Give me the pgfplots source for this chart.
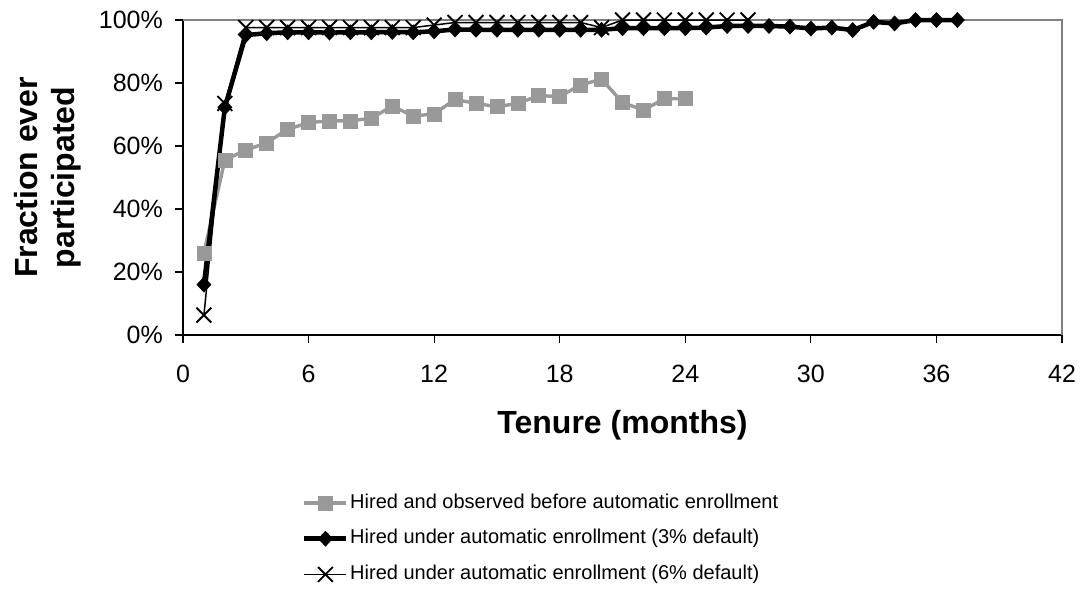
\documentclass[border=0pt]{standalone}
\usepackage{pgfplots}
\pgfplotsset{compat=1.18}
\usepackage{fontspec}
\setmainfont{Liberation Sans}
\definecolor{sgray}{HTML}{999999}
\definecolor{bgray}{HTML}{808080}
\pgfplotstableread{
x y
1 26
2 55.6
3 58.7
4 61
5 65.3
6 67.4
7 68
8 68
9 68.8
10 72.7
11 69.5
12 70.2
13 74.8
14 73.5
15 72.5
16 73.5
17 76
18 75.7
19 79.4
20 81.2
21 73.8
22 71.4
23 75
24 75
}\before
\pgfplotstableread{
x y
1 16
2 72.3
3 95.2
4 95.8
5 96.1
6 96.1
7 96.0
8 96.1
9 96.1
10 96.2
11 96.1
12 96.4
13 97.0
14 96.9
15 96.9
16 96.9
17 96.9
18 96.9
19 96.9
20 96.9
21 97.4
22 97.4
23 97.4
24 97.4
25 97.6
26 98.1
27 98.1
28 98.1
29 97.9
30 97.3
31 97.6
32 96.8
33 99.4
34 98.9
35 100
36 100
37 100
}\three
\pgfplotstableread{
x y
1 6.3
2 73.5
3 97.6
4 97.6
5 97.6
6 97.6
7 97.6
8 97.6
9 97.6
10 97.6
11 97.6
12 98.4
13 99.2
14 99.2
15 99.2
16 99.2
17 99.2
18 99.2
19 99.2
20 97.6
21 100
22 100
23 100
24 100
25 100
26 100
27 100
}\six
\begin{document}
\begin{tikzpicture}
\path[use as bounding box] (-183pt,-260pt) rectangle (903pt,335pt);
\begin{axis}[
  at={(0pt,0pt)}, anchor=south west,
  scale only axis, width=879pt, height=315pt,
  xmin=0, xmax=42, ymin=0, ymax=100,
  axis lines*=left,
  axis line style={black, line width=1.3pt},
  clip=false,
  tick align=outside,
  major tick length=8pt,
  every tick/.style={black, line width=1.2pt},
  xtick={0,6,...,42},
  xticklabels={0,6,12,18,24,30,36,42},
  ytick={0,20,...,100},
  yticklabels={0\%,20\%,40\%,60\%,80\%,100\%},
  /pgf/number format/assume math mode=true,
  tick label style={font=\fontsize{25}{29}\selectfont},
  xticklabel style={anchor=north, inner sep=0pt, yshift=-22pt},
  yticklabel style={anchor=east, inner sep=0pt, xshift=-12pt},
  xlabel={Tenure (months)},
  ylabel={Fraction ever\\participated},
  label style={font=\bfseries\fontsize{32}{37}\selectfont},
  xlabel style={at={(axis description cs:0.5,-0.238)}, anchor=north, inner sep=0pt},
  ylabel style={at={(axis description cs:-0.1158,0.5)}, anchor=south, inner sep=0pt, align=center},
  legend style={at={(axis description cs:0.1354,-0.4985)}, anchor=north west,
    draw=none, fill=none, inner sep=0pt, row sep=14.2pt,
    font=\fontsize{20}{23}\selectfont,
    nodes={inner sep=1.5pt, text height=14.5pt, text depth=4pt}},
  legend cell align=left,
  legend image code/.code={\draw[mark repeat=2,mark phase=2,#1] plot coordinates {(0pt,0pt) (21pt,0pt) (42pt,0pt)};},
]
\draw[bgray, line width=1.3pt] (rel axis cs:0,1) -- (rel axis cs:1,1) -- (rel axis cs:1,0);
\addplot[sgray, line width=3.4pt, mark=square*, mark size=7pt, mark options={solid, fill=sgray, line width=0.6pt}] table[x=x,y=y] {\before};
\addlegendentry{Hired and observed before automatic enrollment}
\addplot[black, line width=4.5pt, mark=diamond*, mark size=7.5pt, mark options={solid, fill=black, line width=0.6pt, xscale=1.25}] table[x=x,y=y] {\three};
\addlegendentry{Hired under automatic enrollment (3\% default)}
\addplot[black, line width=1.5pt, mark=x, mark size=10.5pt, mark options={solid, line width=1.9pt}] table[x=x,y=y] {\six};
\addlegendentry{Hired under automatic enrollment (6\% default)}
\end{axis}
\end{tikzpicture}
\end{document}
